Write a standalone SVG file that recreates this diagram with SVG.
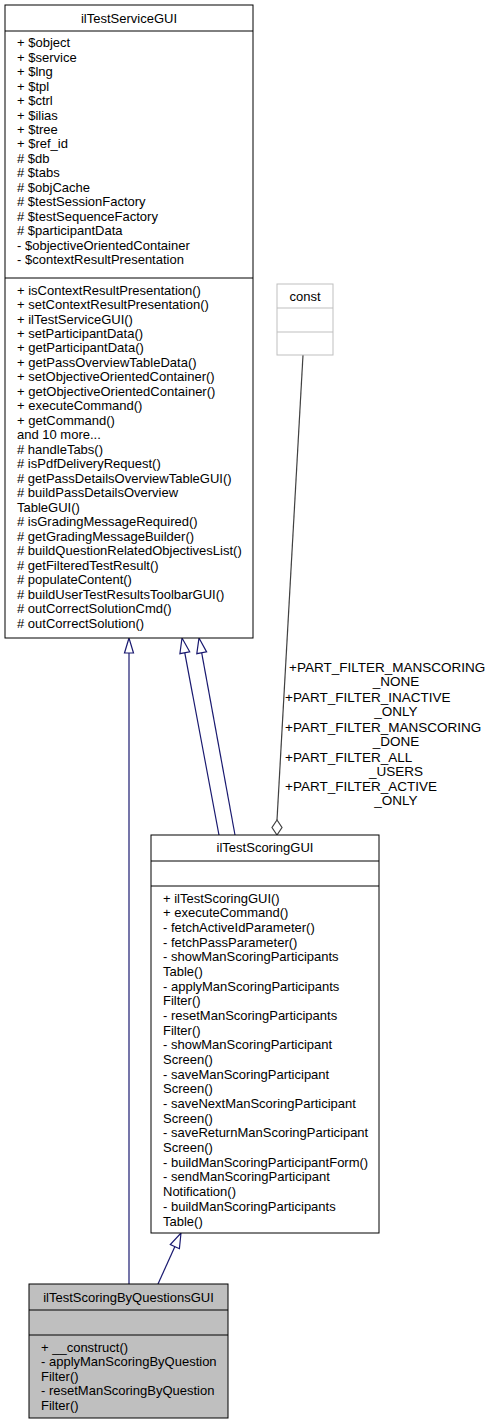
<svg xmlns="http://www.w3.org/2000/svg" width="492" height="1425" viewBox="0 0 492 1425">
<style>
text{font-family:"Liberation Sans",Arial,sans-serif;font-size:13px;fill:#000}
.c{text-anchor:middle}
.lbl{font-size:13.5px}
.box{fill:#fff;stroke:#000;stroke-width:1}
.sel{fill:#bfbfbf;stroke:#000;stroke-width:1}
.gbox{fill:#fff;stroke:#bfbfbf;stroke-width:1}
.inh{fill:none;stroke:#191970;stroke-width:1.2}
.tri{fill:#fff;stroke:#191970;stroke-width:1.2}
.agg{fill:none;stroke:#404040;stroke-width:1.2}
.dia{fill:#fff;stroke:#404040;stroke-width:1.2}
</style>
<rect width="492" height="1425" fill="#fff"/>
<g id="connectors">
<line class="inh" x1="129" y1="1284" x2="129" y2="653"/>
<polygon class="tri" points="129,638 124.5,653 133.5,653"/>
<line class="inh" x1="219" y1="835" x2="184.8" y2="652.8"/>
<polygon class="tri" points="182,638 189.7,651.8 179.9,653.7"/>
<line class="inh" x1="235" y1="835" x2="201.7" y2="652.8"/>
<polygon class="tri" points="199,638 206.6,651.9 196.8,653.7"/>
<line class="inh" x1="158" y1="1284" x2="174.8" y2="1246.7"/>
<polygon class="tri" points="181,1233 179.4,1248.7 170.3,1244.6"/>
<line class="agg" x1="303" y1="355" x2="277" y2="820"/>
<polygon class="dia" points="277,820 272,827.5 277,835 282,827.5"/>
<text class="lbl" x="289" y="672">+PART_FILTER_MANSCORING</text>
<text class="lbl c" x="396" y="686">_NONE</text>
<text class="lbl" x="285" y="702">+PART_FILTER_INACTIVE</text>
<text class="lbl c" x="396" y="716">_ONLY</text>
<text class="lbl" x="285" y="732">+PART_FILTER_MANSCORING</text>
<text class="lbl c" x="396" y="746">_DONE</text>
<text class="lbl" x="285" y="762">+PART_FILTER_ALL</text>
<text class="lbl c" x="396" y="776">_USERS</text>
<text class="lbl" x="285" y="791">+PART_FILTER_ACTIVE</text>
<text class="lbl c" x="396" y="805">_ONLY</text>
</g>
<g id="ilTestServiceGUI">
<rect class="box" x="5" y="5" width="248" height="633"/>
<line stroke="#000" x1="5" y1="31" x2="253" y2="31"/>
<line stroke="#000" x1="5" y1="278" x2="253" y2="278"/>
<text class="c" x="129" y="22.5">ilTestServiceGUI</text>
<text x="17" y="47.2">+ $object</text>
<text x="17" y="61.7">+ $service</text>
<text x="17" y="76.1">+ $lng</text>
<text x="17" y="90.6">+ $tpl</text>
<text x="17" y="105">+ $ctrl</text>
<text x="17" y="119.5">+ $ilias</text>
<text x="17" y="133.9">+ $tree</text>
<text x="17" y="148.4">+ $ref_id</text>
<text x="17" y="162.8">#&#160;$db</text>
<text x="17" y="177.3">#&#160;$tabs</text>
<text x="17" y="191.7">#&#160;$objCache</text>
<text x="17" y="206.2">#&#160;$testSessionFactory</text>
<text x="17" y="220.6">#&#160;$testSequenceFactory</text>
<text x="17" y="235.1">#&#160;$participantData</text>
<text x="17" y="249.5">- $objectiveOrientedContainer</text>
<text x="17" y="264">- $contextResultPresentation</text>
<text x="17" y="294.5">+ isContextResultPresentation()</text>
<text x="17" y="309">+ setContextResultPresentation()</text>
<text x="17" y="323.5">+ ilTestServiceGUI()</text>
<text x="17" y="337.9">+ setParticipantData()</text>
<text x="17" y="352.4">+ getParticipantData()</text>
<text x="17" y="366.9">+ getPassOverviewTableData()</text>
<text x="17" y="381.4">+ setObjectiveOrientedContainer()</text>
<text x="17" y="395.9">+ getObjectiveOrientedContainer()</text>
<text x="17" y="410.3">+ executeCommand()</text>
<text x="17" y="424.8">+ getCommand()</text>
<text x="17" y="439.3">and 10 more...</text>
<text x="17" y="453.8">#&#160;handleTabs()</text>
<text x="17" y="468.3">#&#160;isPdfDeliveryRequest()</text>
<text x="17" y="482.7">#&#160;getPassDetailsOverviewTableGUI()</text>
<text x="17" y="497.2">#&#160;buildPassDetailsOverview</text>
<text x="17" y="511.7">TableGUI()</text>
<text x="17" y="526.2">#&#160;isGradingMessageRequired()</text>
<text x="17" y="540.7">#&#160;getGradingMessageBuilder()</text>
<text x="17" y="555.1">#&#160;buildQuestionRelatedObjectivesList()</text>
<text x="17" y="569.6">#&#160;getFilteredTestResult()</text>
<text x="17" y="584.1">#&#160;populateContent()</text>
<text x="17" y="598.6">#&#160;buildUserTestResultsToolbarGUI()</text>
<text x="17" y="613.1">#&#160;outCorrectSolutionCmd()</text>
<text x="17" y="627.5">#&#160;outCorrectSolution()</text>
</g>
<g id="const">
<rect class="gbox" x="277" y="284" width="56" height="71"/>
<line stroke="#bfbfbf" x1="277" y1="308" x2="333" y2="308"/>
<line stroke="#bfbfbf" x1="277" y1="332" x2="333" y2="332"/>
<text class="c" x="305" y="300.5">const</text>
</g>
<g id="ilTestScoringGUI">
<rect class="box" x="151" y="835" width="228" height="398"/>
<line stroke="#000" x1="151" y1="861" x2="379" y2="861"/>
<line stroke="#000" x1="151" y1="886" x2="379" y2="886"/>
<text class="c" x="265" y="852">ilTestScoringGUI</text>
<text x="163" y="902.5">+ ilTestScoringGUI()</text>
<text x="163" y="917.2">+ executeCommand()</text>
<text x="163" y="931.8">- fetchActiveIdParameter()</text>
<text x="163" y="946.5">- fetchPassParameter()</text>
<text x="163" y="961.2">- showManScoringParticipants</text>
<text x="163" y="975.9">Table()</text>
<text x="163" y="990.6">- applyManScoringParticipants</text>
<text x="163" y="1005.3">Filter()</text>
<text x="163" y="1019.9">- resetManScoringParticipants</text>
<text x="163" y="1034.6">Filter()</text>
<text x="163" y="1049.3">- showManScoringParticipant</text>
<text x="163" y="1064">Screen()</text>
<text x="163" y="1078.7">- saveManScoringParticipant</text>
<text x="163" y="1093.3">Screen()</text>
<text x="163" y="1108">- saveNextManScoringParticipant</text>
<text x="163" y="1122.7">Screen()</text>
<text x="163" y="1137.4">- saveReturnManScoringParticipant</text>
<text x="163" y="1152.1">Screen()</text>
<text x="163" y="1166.7">- buildManScoringParticipantForm()</text>
<text x="163" y="1181.4">- sendManScoringParticipant</text>
<text x="163" y="1196.1">Notification()</text>
<text x="163" y="1210.8">- buildManScoringParticipants</text>
<text x="163" y="1225.5">Table()</text>
</g>
<g id="ilTestScoringByQuestionsGUI">
<rect class="sel" x="29" y="1284" width="199" height="134"/>
<line stroke="#000" x1="29" y1="1310" x2="228" y2="1310"/>
<line stroke="#000" x1="29" y1="1335" x2="228" y2="1335"/>
<text class="c" x="128.5" y="1301.5">ilTestScoringByQuestionsGUI</text>
<text x="41" y="1351.5">+ __construct()</text>
<text x="41" y="1366">- applyManScoringByQuestion</text>
<text x="41" y="1380.5">Filter()</text>
<text x="41" y="1395">- resetManScoringByQuestion</text>
<text x="41" y="1409.5">Filter()</text>
</g>
</svg>
